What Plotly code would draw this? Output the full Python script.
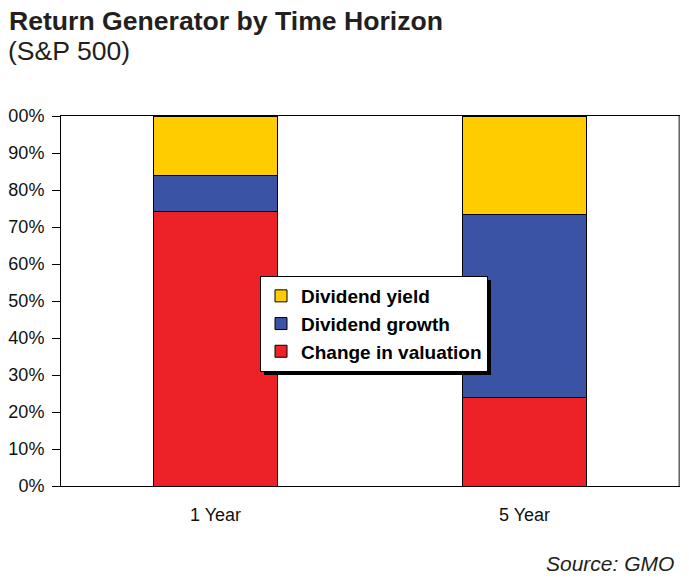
import plotly.graph_objects as go

categories = ["1 Year", "5 Year"]
change_in_valuation = [74.3, 23.8]
dividend_growth = [9.5, 49.7]
dividend_yield = [16.2, 26.5]
y_ticks = [0, 10, 20, 30, 40, 50, 60, 70, 80, 90, 100]
y_tick_text = [f"{v}%" for v in y_ticks]

W, H = 689, 579
# target plot area in screenshot pixels
PL, PR, PT, PB = 58, 676, 115, 485
DX, DY = 5, 7  # observed page offset
ml, mt = PL - DX, PT - DY
mr, mb = W - PR + DX, H - PB + DY

def fx(x):
    return (x - PL) / (PR - PL)

def fy(y):
    return (PB - y) / (PB - PT)

fig = go.Figure()
line = dict(color="black", width=1)
fig.add_trace(go.Bar(x=categories, y=change_in_valuation, name="Change in valuation",
                     marker=dict(color="#EC2227", line=line)))
fig.add_trace(go.Bar(x=categories, y=dividend_growth, name="Dividend growth",
                     marker=dict(color="#3A53A4", line=line)))
fig.add_trace(go.Bar(x=categories, y=dividend_yield, name="Dividend yield",
                     marker=dict(color="#FFCC00", line=line)))

font = "Arial, Liberation Sans, sans-serif"

# legend shadow
fig.add_shape(type="rect", xref="paper", yref="paper",
              x0=fx(261), x1=fx(488), y0=fy(279), y1=fy(374),
              fillcolor="black", line=dict(width=0), layer="above")
# grey right border
fig.add_shape(type="line", xref="paper", yref="paper", x0=1, x1=1, y0=0, y1=1,
              line=dict(color="#8a8a8a", width=1.5), layer="above")

fig.update_layout(
    width=W, height=H,
    margin=dict(l=ml, r=mr, t=mt, b=mb),
    barmode="stack", bargap=0.6,
    paper_bgcolor="white", plot_bgcolor="white",
    font=dict(family=font, size=16, color="#111111"),
    showlegend=True,
    legend=dict(x=fx(257), y=fy(275), xanchor="left", yanchor="top",
                traceorder="reversed", bgcolor="white", bordercolor="black", borderwidth=1,
                font=dict(family=font, size=19, color="black", weight="bold")),
    xaxis=dict(showline=True, linecolor="black", linewidth=1, mirror=True, automargin=False,
               ticks="", tickfont=dict(size=18), range=[-0.5, 1.5], ticklabelstandoff=12),
    yaxis=dict(range=[0, 100], tickvals=y_ticks, ticktext=y_tick_text, showgrid=False,
               automargin=False,
               showline=True, linecolor="black", linewidth=1, mirror=True,
               ticks="outside", ticklen=8, tickcolor="black", tickfont=dict(size=18),
               ticklabelstandoff=4),
)

fig.add_annotation(x=fx(4), y=fy(20), xref="paper", yref="paper", xanchor="left", yanchor="middle",
                   text="<b>Return Generator by Time Horizon</b>", showarrow=False,
                   font=dict(family=font, size=26.6, color="#231F20"))
fig.add_annotation(x=fx(3), y=fy(50), xref="paper", yref="paper", xanchor="left", yanchor="middle",
                   text="(S&P 500)", showarrow=False,
                   font=dict(family=font, size=26.6, color="#231F20"))
fig.add_annotation(x=fx(673), y=fy(562), xref="paper", yref="paper", xanchor="right", yanchor="middle",
                   text="<i>Source: GMO</i>", showarrow=False,
                   font=dict(family=font, size=21, color="#231F20"))

fig.write_html("out.html")
